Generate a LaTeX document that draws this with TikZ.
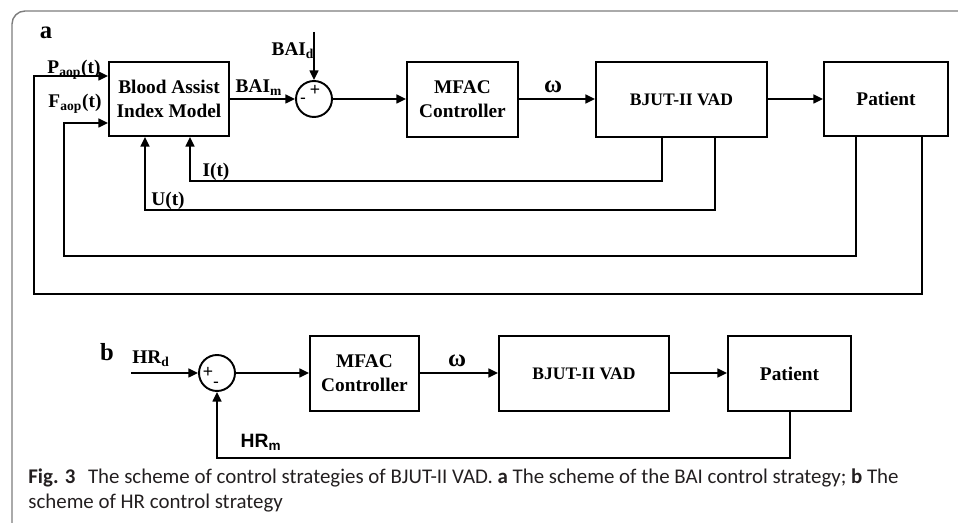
\documentclass[tikz,border=0pt]{standalone}
\usepackage{fontspec}
\setmainfont{Liberation Serif}
\newfontfamily\capfont{Carlito}
\newfontfamily\arialfont{Liberation Sans}
\usepackage{tikz}
\usetikzlibrary{arrows.meta, positioning}
\definecolor{marco}{RGB}{125, 125, 125}
\definecolor{textoCap}{RGB}{35, 31, 32}
\tikzset{
    blk/.style={draw, rectangle, line width=1.1pt, align=center, inner sep=0pt, font=\fontsize{11}{13.5}\selectfont\bfseries},
    sumc/.style={draw, circle, line width=1.1pt, minimum size=0.72cm, inner sep=0pt},
    conn/.style={-, line width=1.1pt},
    arr/.style={conn, -{Triangle[length=5.5pt, width=5pt]}},
    lbl/.style={inner sep=0pt, font=\fontsize{11}{13}\selectfont\bfseries},
    omg/.style={inner sep=0pt, font=\fontsize{14}{14}\selectfont\bfseries},
    sgn/.style={inner sep=0pt, font=\arialfont\fontsize{10}{10}\selectfont},
    capt/.style={anchor=west, inner sep=0pt, text=textoCap, font=\capfont\fontsize{11.9}{13}\selectfont},
}
\begin{document}
\begin{tikzpicture}[x=0.02cm, y=-0.02cm]
        \useasboundingbox (0,0) rectangle (958,523);
        \draw[marco, line width=0.8pt, rounded corners=0.26cm] (12,523) -- (12,11) -- (958,11);

        \node[lbl, font=\fontsize{14}{14}\selectfont\bfseries] (labA) at (46,33) {a};
        \node[blk, minimum width=2.4cm, minimum height=1.48cm] (baiA) at (169,99) {Blood Assist\\Index Model};
        \node[sumc] (sumA) at (314,99) {};
        \node[blk, minimum width=2.22cm, minimum height=1.5cm] (mfacA) at (462.5,99.5) {MFAC\\Controller};
        \node[blk, minimum width=3.42cm, minimum height=1.5cm, font=\fontsize{10}{12}\selectfont\bfseries] (vadA) at (681.5,99.5) {BJUT-II VAD};
        \node[blk, minimum width=2.48cm, minimum height=1.48cm] (patA) at (886,99) {Patient};

        \coordinate (baidA) at (314,32);
        \coordinate (iA) at (662,181);
        \coordinate (iB) at (190,181);
        \coordinate (uA) at (715,210);
        \coordinate (uB) at (145,210);
        \coordinate (fA) at (856,256);
        \coordinate (fB) at (64,256);
        \coordinate (fIn) at (64,123);
        \coordinate (pA) at (922,294);
        \coordinate (pB) at (34,294);
        \coordinate (pIn) at (34,76);

        \draw[arr] (baidA) -- (sumA.north);
        \draw[arr] (baiA.east |- sumA) -- (sumA.west);
        \draw[arr] (sumA.east) -- (sumA.east -| mfacA.west);
        \draw[arr] (mfacA.east |- sumA) -- (vadA.west |- sumA);
        \draw[arr] (vadA.east |- patA) -- (patA.west);
        \draw[arr] (vadA.south -| iA) |- (iB) -- (baiA.south -| iB);
        \draw[arr] (vadA.south -| uA) |- (uB) -- (baiA.south -| uB);
        \draw[arr] (patA.south -| fA) |- (fB) -- (fIn) -- (baiA.west |- fIn);
        \draw[arr] (patA.south -| pA) |- (pB) -- (pIn) -- (baiA.west |- pIn);

        \node[lbl] (baidL) at (293,51) {BAI\textsubscript{d}};
        \node[lbl] (baimL) at (259,88) {BAI\textsubscript{m}};
        \node[omg] (omA) at (553,87) {ω};
        \node[lbl] (iL) at (216,172) {I(t)};
        \node[lbl] (uL) at (168,201) {U(t)};
        \node[lbl] (fL) at (75,104) {F\textsubscript{aop}(t)};
        \node[lbl] (pL) at (74,70) {P\textsubscript{aop}(t)};
        \node[sgn] (plusA) at (315,90) {+};
        \node[sgn] (minA) at (303,101) {-};

        \node[lbl, font=\fontsize{14}{14}\selectfont\bfseries] (labB) at (107,352) {b};
        \node[sumc] (sumB) at (217,373) {};
        \node[blk, minimum width=2.18cm, minimum height=1.5cm] (mfacB) at (364.5,373.5) {MFAC\\Controller};
        \node[blk, minimum width=3.4cm, minimum height=1.5cm, font=\fontsize{10}{12}\selectfont\bfseries] (vadB) at (584,373.5) {BJUT-II VAD};
        \node[blk, minimum width=2.46cm, minimum height=1.5cm] (patB) at (789.5,373.5) {Patient};

        \coordinate (hrdB) at (131,373);
        \coordinate (hrmA) at (790,458);
        \coordinate (hrmB) at (217,458);

        \draw[arr] (hrdB) -- (sumB.west);
        \draw[arr] (sumB.east) -- (sumB.east -| mfacB.west);
        \draw[arr] (mfacB.east |- sumB) -- (vadB.west |- sumB);
        \draw[arr] (vadB.east |- sumB) -- (patB.west |- sumB);
        \draw[arr] (patB.south -| hrmA) |- (hrmB) -- (sumB.south);

        \node[lbl] (hrdL) at (151,359) {HR\textsubscript{d}};
        \node[omg] (omB) at (457,361) {ω};
        \node[lbl, font=\arialfont\fontsize{11}{13}\selectfont\bfseries] (hrmL) at (261,442) {HR\textsubscript{m}};
        \node[sgn] (plusB) at (208,372) {+};
        \node[sgn] (minB) at (216,385) {-};

        \node[capt] (cap1) at (28,478) {\textbf{Fig. 3}\hspace{0.6em}The scheme of control strategies of BJUT-II VAD. \textbf{a} The scheme of the BAI control strategy; \textbf{b} The};
        \node[capt] (cap2) at (28,503) {scheme of HR control strategy};
\end{tikzpicture}
\end{document}
